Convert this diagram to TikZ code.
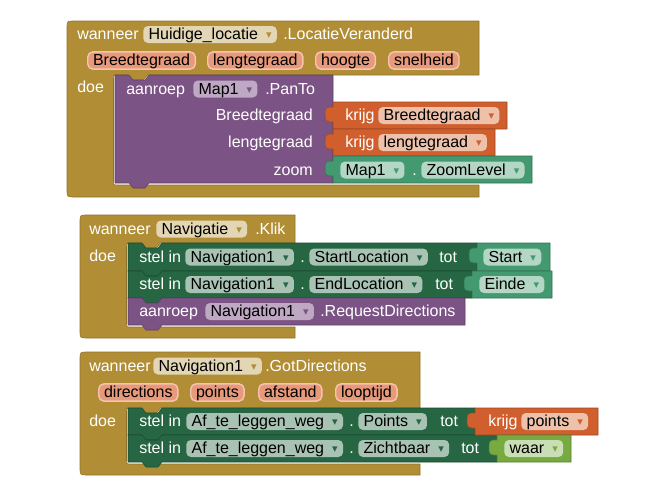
\documentclass[tikz,border=0pt]{standalone}
\usepackage{fontspec}
\setmainfont{Liberation Sans}
\newfontfamily\arrowfont[Scale=0.45]{DejaVu Sans}

\definecolor{evGold}{HTML}{B18E35}
\definecolor{evPill}{HTML}{E3D6B4}
\definecolor{parFill}{HTML}{E8997A}
\definecolor{parRim}{HTML}{F4C4AE}
\definecolor{procPurple}{HTML}{7C5385}
\definecolor{procPill}{HTML}{BEA8C3}
\definecolor{varOrange}{HTML}{D05F2D}
\definecolor{varPill}{HTML}{EEC1AB}
\definecolor{setGreen}{HTML}{266643}
\definecolor{setPill}{HTML}{A8C2B3}
\definecolor{getGreen}{HTML}{439970}
\definecolor{getPill}{HTML}{B4D6C5}
\definecolor{logGreen}{HTML}{77AB41}
\definecolor{logPill}{HTML}{C9DEB4}

% dropdown arrow inside a field
\newcommand{\ddarrow}[1]{\hspace{6pt}\textcolor{#1}{\raisebox{1.2pt}{\arrowfont ▼}}\hspace{2.5pt}}
% event block: left, top, right, header bottom, inner left, bar top, bottom
\newcommand{\evblock}[7]{%
  \filldraw[fill=evGold, draw=evGold!80!black, line width=0.4pt]
    (#1+7,#2) -- (#3,#2) -- (#3,#4) -- (#5+34,#4) -- (#5+30,#4+5) -- (#5+18,#4+5) -- (#5+14,#4)
    -- (#5+4,#4) .. controls (#5,#4) .. (#5,#4+4) -- (#5,#6-4) .. controls (#5,#6) .. (#5+4,#6)
    -- (#3,#6) -- (#3,#7) -- (#1+7,#7) .. controls (#1,#7) .. (#1,#7-7)
    -- (#1,#2+7) .. controls (#1,#2) .. (#1+7,#2) -- cycle;}
% statement block: colour, left, top, right, bottom
\newcommand{\stblock}[5]{%
  \filldraw[fill=#1, draw=#1!75!black, line width=0.4pt]
    (#2,#3) -- (#2+14,#3) -- (#2+18,#3+5) -- (#2+30,#3+5) -- (#2+34,#3) -- (#4,#3)
    -- (#4,#5) -- (#2+34,#5) -- (#2+30,#5+5) -- (#2+18,#5+5) -- (#2+14,#5) -- (#2,#5) -- cycle;}
% value block: colour, left, top, right, bottom
\newcommand{\vlblock}[5]{%
  \filldraw[fill=#1, draw=#1!75!black, line width=0.4pt]
    (#2,#3) -- (#4,#3) -- (#4,#5) -- (#2,#5) -- (#2,#3+20) -- (#2-3,#3+20)
    .. controls (#2-8,#3+20) and (#2-8,#3+17) .. (#2-8,#3+12.5)
    .. controls (#2-8,#3+8) and (#2-8,#3+5) .. (#2-3,#3+5) -- (#2,#3+5) -- cycle;}

\begin{document}
\begin{tikzpicture}[
    x=0.75pt, y=-0.75pt,
    font=\fontsize{12}{14}\selectfont,
    every node/.style={inner sep=0pt, text height=8.6pt, text depth=1pt, anchor=west},
    lbl/.style={text=white},
    rlbl/.style={text=white, anchor=east},
    pill/.style={rounded corners=3.5pt, inner xsep=4pt, minimum height=12.75pt, text=black},
    par/.style={pill, fill=parFill, draw=parRim, line width=1.1pt, minimum height=13pt, rounded corners=4pt},
    evp/.style={pill, fill=evPill},
    prp/.style={pill, fill=procPill},
    orp/.style={pill, fill=varPill},
    stp/.style={pill, fill=setPill},
    gnp/.style={pill, fill=getPill},
    lgp/.style={pill, fill=logPill}
  ]
  \useasboundingbox (0,0) rectangle (672,500);

  % wanneer Huidige_locatie.LocatieVeranderd
  \evblock{67}{21}{479}{75}{113.5}{185}{197}
  \stblock{procPurple}{115}{75}{333}{183}
  \vlblock{varOrange}{333}{102}{507}{129}
  \vlblock{varOrange}{333}{129}{495}{156}
  \vlblock{getGreen}{333}{156}{532}{183}
  \node[lbl] (wan1) at (77,34.5) {wanneer};
  \node[evp] (loc) at (143,34.5) {Huidige\_locatie\ddarrow{evGold}};
  \node[lbl] (ev1) at (283,34.5) {.LocatieVeranderd};
  \node[par] (pBreed) at (87,60.5) {Breedtegraad};
  \node[par] (pLeng) at (207,60.5) {lengtegraad};
  \node[par] (pHoog) at (315,60.5) {hoogte};
  \node[par] (pSnel) at (388,60.5) {snelheid};
  \node[lbl] (doe1) at (77,87.5) {doe};
  \node[lbl] (call1) at (126,89) {aanroep};
  \node[prp] (map1) at (193,89) {Map1\ddarrow{procPurple}};
  \node[lbl] (pan) at (265,89) {.PanTo};
  \node[rlbl] (aBreed) at (313,115.5) {Breedtegraad};
  \node[rlbl] (aLeng) at (313,142.5) {lengtegraad};
  \node[rlbl] (aZoom) at (313,170) {zoom};
  \node[lbl] (get1) at (345,115.5) {krijg};
  \node[orp] (gBreed) at (378,115.5) {Breedtegraad\ddarrow{varOrange}};
  \node[lbl] (get2) at (345,142.5) {krijg};
  \node[orp] (gLeng) at (378,142.5) {lengtegraad\ddarrow{varOrange}};
  \node[gnp] (zMap) at (340,170) {Map1\ddarrow{getGreen}};
  \node[lbl] (zDot) at (412,170) {.};
  \node[gnp] (zLev) at (421,170) {ZoomLevel\ddarrow{getGreen}};

  % wanneer Navigatie.Klik
  \evblock{80}{215}{295}{243}{126.5}{327}{338}
  \stblock{setGreen}{128}{243}{477}{271}
  \stblock{setGreen}{128}{271}{472}{298}
  \stblock{procPurple}{128}{298}{465}{325}
  \vlblock{getGreen}{477}{243}{550}{271}
  \vlblock{getGreen}{472}{271}{552}{298}
  \node[lbl] (wan2) at (89,229) {wanneer};
  \node[evp] (navi) at (156,229) {Navigatie\ddarrow{evGold}};
  \node[lbl] (klik) at (255,229) {.Klik};
  \node[lbl] (doe2) at (89,256) {doe};
  \node[lbl] (set1) at (139,257) {stel in};
  \node[stp] (nav1) at (185,257) {Navigation1\ddarrow{setGreen}};
  \node[lbl] (dot1) at (300,257) {.};
  \node[stp] (sLoc) at (309,257) {StartLocation\ddarrow{setGreen}};
  \node[lbl] (tot1) at (439,257) {tot};
  \node[gnp] (vStart) at (483,257) {Start\ddarrow{getGreen}};
  \node[lbl] (set2) at (139,284.5) {stel in};
  \node[stp] (nav2) at (185,284.5) {Navigation1\ddarrow{setGreen}};
  \node[lbl] (dot2) at (300,284.5) {.};
  \node[stp] (eLoc) at (309,284.5) {EndLocation\ddarrow{setGreen}};
  \node[lbl] (tot2) at (435,284.5) {tot};
  \node[gnp] (vEnd) at (479,284.5) {Einde\ddarrow{getGreen}};
  \node[lbl] (call2) at (139,311.5) {aanroep};
  \node[prp] (nav3) at (205,311.5) {Navigation1\ddarrow{procPurple}};
  \node[lbl] (req) at (320,311.5) {.RequestDirections};

  % wanneer Navigation1.GotDirections
  \evblock{80}{352}{420}{408}{126.5}{464}{475}
  \stblock{setGreen}{128}{408}{475}{435}
  \stblock{setGreen}{128}{435}{497}{462}
  \vlblock{varOrange}{475}{408}{598}{435}
  \vlblock{logGreen}{497}{435}{571}{462}
  \node[lbl] (wan3) at (89,366) {wanneer};
  \node[evp] (nav4) at (153,366) {Navigation1\ddarrow{evGold}};
  \node[lbl] (got) at (265,366) {.GotDirections};
  \node[par] (pDir) at (98,392.5) {directions};
  \node[par] (pPts) at (190,392.5) {points};
  \node[par] (pAfst) at (258,392.5) {afstand};
  \node[par] (pLoop) at (335,392.5) {looptijd};
  \node[lbl] (doe3) at (89,421) {doe};
  \node[lbl] (set3) at (139,421.5) {stel in};
  \node[stp] (way1) at (186,421.5) {Af\_te\_leggen\_weg\ddarrow{setGreen}};
  \node[lbl] (dot3) at (349,421.5) {.};
  \node[stp] (sPts) at (358,421.5) {Points\ddarrow{setGreen}};
  \node[lbl] (tot3) at (440,421.5) {tot};
  \node[lbl] (get3) at (488,421.5) {krijg};
  \node[orp] (vPts) at (521,421.5) {points\ddarrow{varOrange}};
  \node[lbl] (set4) at (139,448.5) {stel in};
  \node[stp] (way2) at (186,448.5) {Af\_te\_leggen\_weg\ddarrow{setGreen}};
  \node[lbl] (dot4) at (349,448.5) {.};
  \node[stp] (vis) at (358,448.5) {Zichtbaar\ddarrow{setGreen}};
  \node[lbl] (tot4) at (461,448.5) {tot};
  \node[lgp] (vTrue) at (504,448.5) {waar\ddarrow{logGreen}};
\end{tikzpicture}
\end{document}
